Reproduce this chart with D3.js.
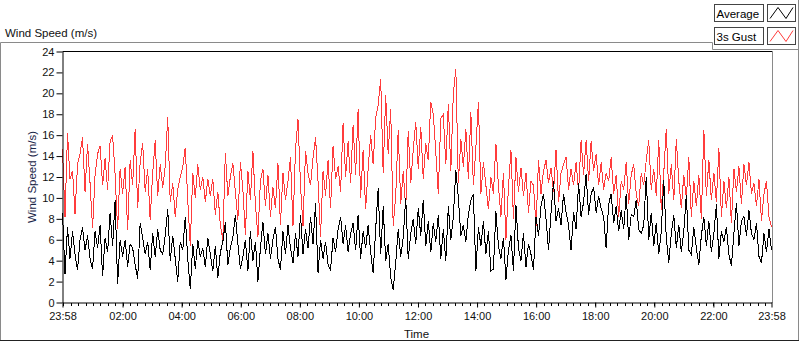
<!DOCTYPE html>
<html>
<head>
<meta charset="utf-8">
<script src="https://cdn.jsdelivr.net/npm/d3@7"></script>
<style>
    body { margin: 0; background: #fff; }
    svg { display: block; font-family: "Liberation Sans", Arial, sans-serif; }
</style>
</head>
<body>
<div id="chart"></div>
<script>
// values (one sample roughly every 5 minutes)
const average = [
    8.6, 2.7, 7.2, 4.2, 6.8, 4.6, 3.1, 6.0, 7.2, 5.0, 6.4, 4.2, 3.2, 6.8, 5.2, 7.4,
    2.5, 6.2, 4.8, 8.6, 5.4, 9.8, 1.8, 6.0, 4.4, 6.0, 3.4, 5.6, 5.2, 3.6, 2.3, 7.6,
    6.2, 4.6, 5.8, 3.1, 6.6, 4.4, 7.0, 5.0, 4.6, 6.4, 8.9, 4.0, 6.4, 4.2, 2.0, 5.8,
    5.0, 8.2, 4.2, 1.3, 5.6, 3.2, 6.0, 4.4, 5.2, 3.4, 6.2, 4.6, 3.0, 5.4, 2.3, 4.8,
    5.8, 7.7, 3.6, 5.2, 6.2, 8.4, 5.6, 3.2, 4.4, 6.0, 3.0, 6.8, 4.0, 5.8, 2.0, 5.2,
    7.7, 4.6, 6.6, 4.2, 6.0, 7.2, 4.2, 3.1, 6.8, 4.6, 7.4, 5.2, 3.8, 6.6, 4.4, 8.4,
    4.6, 7.0, 5.2, 8.2, 5.6, 9.5, 2.8, 6.0, 4.2, 5.8, 3.6, 3.1, 6.2, 4.8, 7.0, 8.2,
    5.6, 7.4, 4.8, 6.6, 7.6, 5.0, 8.4, 4.2, 6.8, 5.2, 7.4, 4.8, 2.8, 7.0, 10.9, 4.6,
    9.2, 4.0, 5.6, 2.4, 1.2, 3.8, 7.0, 4.4, 6.2, 10.0, 4.2, 6.6, 8.0, 5.6, 9.0, 6.4,
    9.8, 5.4, 7.8, 4.8, 7.6, 5.8, 8.4, 4.2, 7.0, 4.0, 9.2, 6.0, 8.2, 12.7, 10.0, 6.4,
    7.4, 5.8, 8.4, 9.8, 10.4, 3.0, 7.2, 5.4, 7.8, 4.6, 6.8, 3.0, 3.2, 8.7, 5.4, 4.2,
    6.2, 2.2, 5.0, 6.4, 3.0, 9.3, 5.2, 4.0, 6.6, 3.4, 5.6, 4.6, 3.1, 8.2, 6.4, 9.2,
    10.4, 8.0, 5.0, 8.6, 11.6, 7.8, 9.0, 7.4, 10.4, 8.6, 7.4, 5.0, 8.6, 7.0, 11.4, 8.2,
    9.6, 12.3, 8.4, 10.4, 11.0, 8.6, 10.2, 9.0, 8.2, 5.2, 9.4, 10.4, 7.6, 9.2, 6.8, 8.8,
    7.0, 10.4, 6.0, 8.4, 8.2, 9.8, 7.0, 6.6, 7.4, 12.0, 6.0, 8.6, 5.4, 7.6, 4.6, 6.8,
    11.7, 6.2, 3.8, 6.6, 8.4, 5.2, 7.4, 4.8, 6.8, 10.3, 5.0, 4.6, 7.2, 5.2, 3.6, 6.4,
    8.2, 5.4, 7.8, 4.8, 6.6, 9.4, 4.2, 6.8, 5.8, 7.2, 4.6, 3.5, 6.6, 9.5, 5.4, 7.8,
    8.2, 6.4, 8.8, 6.6, 6.0, 7.6, 4.4, 3.8, 6.6, 4.8, 7.0, 5.0
]
const gust = [
    14.7, 8.2, 16.2, 11.8, 12.6, 8.5, 13.2, 14.2, 15.8, 10.6, 15.2, 11.4, 7.1, 12.2, 14.2, 15.0,
    11.2, 13.8, 10.8, 15.4, 16.0, 12.2, 7.0, 12.8, 10.4, 13.0, 6.9, 13.6, 11.2, 16.6, 9.0, 13.4,
    15.2, 10.6, 12.8, 7.9, 12.4, 15.5, 10.2, 13.2, 11.0, 13.0, 17.7, 9.6, 11.4, 8.2, 10.8, 12.0,
    13.0, 14.8, 9.8, 5.4, 12.4, 10.0, 13.2, 10.8, 12.0, 9.6, 11.8, 10.2, 11.8, 8.4, 10.6, 7.4,
    6.0, 14.3, 10.2, 12.0, 13.3, 10.6, 7.9, 13.4, 10.8, 6.5, 12.6, 9.8, 14.5, 9.4, 6.3, 11.6,
    12.8, 9.2, 12.2, 8.2, 11.0, 9.0, 13.3, 7.4, 12.4, 9.8, 11.6, 13.9, 7.3, 14.6, 17.5, 11.2,
    7.3, 14.5, 12.4, 11.2, 13.8, 15.8, 11.6, 6.3, 12.6, 10.2, 13.6, 9.0, 15.0, 11.8, 13.0, 10.6,
    17.2, 12.0, 15.4, 11.4, 17.0, 12.2, 18.5, 10.0, 14.6, 8.9, 12.8, 16.0, 13.2, 17.6, 18.9, 21.4,
    12.4, 19.8, 14.2, 18.5, 7.3, 10.2, 16.5, 9.4, 12.6, 8.9, 16.4, 11.4, 14.6, 17.3, 12.8, 16.8,
    11.8, 15.2, 13.6, 19.2, 18.0, 14.4, 10.4, 17.6, 18.0, 13.2, 19.0, 12.6, 20.0, 22.3, 11.4, 15.6,
    13.0, 16.6, 11.8, 18.2, 11.2, 14.8, 19.2, 10.4, 13.4, 11.2, 8.9, 12.0, 10.4, 15.2, 11.2, 8.2,
    12.4, 6.0, 11.0, 14.6, 8.0, 13.9, 10.6, 12.9, 10.2, 12.4, 8.6, 11.6, 11.2, 7.3, 13.6, 10.4,
    12.6, 13.6, 11.4, 12.9, 10.6, 14.6, 9.6, 12.4, 13.2, 13.9, 10.8, 12.8, 11.2, 13.4, 10.6, 15.5,
    12.2, 15.5, 11.6, 15.4, 12.6, 14.2, 11.2, 13.4, 10.8, 12.4, 11.6, 13.9, 10.4, 12.2, 8.2, 11.6,
    10.8, 13.4, 9.4, 12.2, 13.2, 10.4, 9.2, 12.4, 11.2, 13.6, 15.5, 10.8, 12.8, 10.2, 15.5, 8.8,
    12.4, 16.6, 10.4, 13.2, 9.8, 15.6, 11.6, 9.0, 12.2, 10.0, 13.9, 8.2, 11.6, 9.2, 12.2, 8.0,
    16.5, 10.2, 13.6, 9.8, 12.4, 9.6, 14.8, 8.2, 11.6, 9.0, 12.0, 7.6, 12.8, 10.6, 13.0, 9.4,
    13.2, 11.2, 13.4, 10.4, 11.4, 9.2, 11.8, 7.8, 10.4, 11.6, 8.2, 7.2
]
const seriesNames = ["Average", "3s Gust"]
const yTickValues = [0, 2, 4, 6, 8, 10, 12, 14, 16, 18, 20, 22, 24]
const startLabel = "23:58"
const hourLabels = ["02:00", "04:00", "06:00", "08:00", "10:00", "12:00", "14:00", "16:00", "18:00", "20:00", "22:00"]

const colors = ["#000000", "#ff3c3c"]
const width = 800
const height = 342
const plot = { left: 62, right: 771, top: 51, bottom: 303 }

const svg = d3.select('#chart')
    .append('svg')
    .attr('width', width)
    .attr('height', height)

// time domain: 23:58 to 23:58 the next day
const parseHM = d3.timeParse('%Y-%m-%d %H:%M')
const start = parseHM('2000-01-01 ' + startLabel)
const end = parseHM('2000-01-02 ' + startLabel)
const majorTicks = [start].concat(hourLabels.map(h => parseHM('2000-01-02 ' + h)), [end])

const x = d3.scaleTime().domain([start, end]).range([plot.left + 0.5, plot.right + 0.5])
const y = d3.scaleLinear().domain([0, 24]).range([plot.bottom - 0.5, plot.top + 0.5])

// outer panel frame
const frame = svg.append('g').attr('fill', 'none')
frame.append('path')
    .attr('d', 'M0.5,341 V42.5 H712.5 V49.5 H798')
    .attr('stroke', '#8a8a8a')
frame.append('path')
    .attr('d', 'M798.5,0 V341')
    .attr('stroke', '#8a8a8a')
frame.append('path')
    .attr('d', 'M0,340.5 H799')
    .attr('stroke', '#222')

// chart title
svg.append('text')
    .attr('x', 5)
    .attr('y', 37)
    .attr('font-size', '11.5px')
    .attr('fill', '#111')
    .text('Wind Speed (m/s)')

// plot area borders
svg.append('line')
    .attr('x1', plot.left + 0.5).attr('x2', plot.right + 1)
    .attr('y1', plot.top + 0.5).attr('y2', plot.top + 0.5)
    .attr('stroke', '#000')
svg.append('line')
    .attr('x1', plot.right + 1.5).attr('x2', plot.right + 1.5)
    .attr('y1', plot.top).attr('y2', plot.bottom)
    .attr('stroke', '#8a8a8a')

// series
const timeAt = (i, n) => new Date(start.getTime() + i * (end - start) / (n - 1))
const line = d3.line()
    .x((d, i, arr) => x(timeAt(i, arr.length)))
    .y(d => y(d))

const lines = svg.append('g')
    .attr('fill', 'none')
    .attr('stroke-width', 1)
    .attr('shape-rendering', 'crispEdges')
lines.append('path')
    .datum(gust)
    .attr('stroke', colors[1])
    .attr('d', line)
lines.append('path')
    .datum(average)
    .attr('stroke', colors[0])
    .attr('d', line)

// y axis
const yAxis = svg.append('g')
    .attr('transform', `translate(${plot.left + 0.5},0)`)
    .call(d3.axisLeft(y).tickValues(yTickValues).tickSize(6).tickSizeOuter(0).tickPadding(2))
yAxis.select('.domain').attr('stroke', '#000')
yAxis.selectAll('text').attr('font-size', '11px').attr('fill', '#111').attr('font-family', null)

svg.append('text')
    .attr('transform', `translate(35.5,${(plot.top + plot.bottom) / 2}) rotate(-90)`)
    .attr('text-anchor', 'middle')
    .attr('font-size', '11.5px')
    .attr('fill', '#1a2648')
    .text('Wind Speed (m/s)')

// x axis: minor ticks every 15 min, labelled ticks every 2 h
const minorTicks = d3.timeMinute.every(15).range(start, end)
svg.append('g')
    .selectAll('line')
    .data(minorTicks)
    .join('line')
    .attr('x1', d => Math.round(x(d)) + 0.5)
    .attr('x2', d => Math.round(x(d)) + 0.5)
    .attr('y1', plot.bottom)
    .attr('y2', plot.bottom + 3)
    .attr('stroke', '#000')

const xAxis = svg.append('g')
    .attr('transform', `translate(0,${plot.bottom - 0.5})`)
    .call(d3.axisBottom(x).tickValues(majorTicks).tickFormat(d3.timeFormat('%H:%M')).tickSize(5).tickSizeOuter(0).tickPadding(5))
xAxis.select('.domain').attr('stroke', '#000')
xAxis.selectAll('text').attr('font-size', '11px').attr('fill', '#111').attr('font-family', null)

svg.append('text')
    .attr('x', (plot.left + plot.right) / 2)
    .attr('y', 338)
    .attr('text-anchor', 'middle')
    .attr('font-size', '11.5px')
    .attr('fill', '#111')
    .text('Time')

// legend
const legend = svg.append('g')
seriesNames.forEach((name, i) => {
    const top = 4.5 + i * 23
    legend.append('rect')
        .attr('x', 714.5).attr('y', top)
        .attr('width', 49).attr('height', 17)
        .attr('fill', '#fff').attr('stroke', '#444')
    legend.append('text')
        .attr('x', 716.5).attr('y', top + 13)
        .attr('font-size', '11.5px')
        .attr('fill', '#000')
        .text(name)
    legend.append('rect')
        .attr('x', 767.5).attr('y', top)
        .attr('width', 28).attr('height', 17)
        .attr('fill', '#fff').attr('stroke', '#444')
    legend.append('path')
        .attr('d', `M770,${top + 14} L778,${top + 3} L786,${top + 14} L793,${top + 3}`)
        .attr('fill', 'none')
        .attr('stroke', colors[i])
})
</script>
</body>
</html>
